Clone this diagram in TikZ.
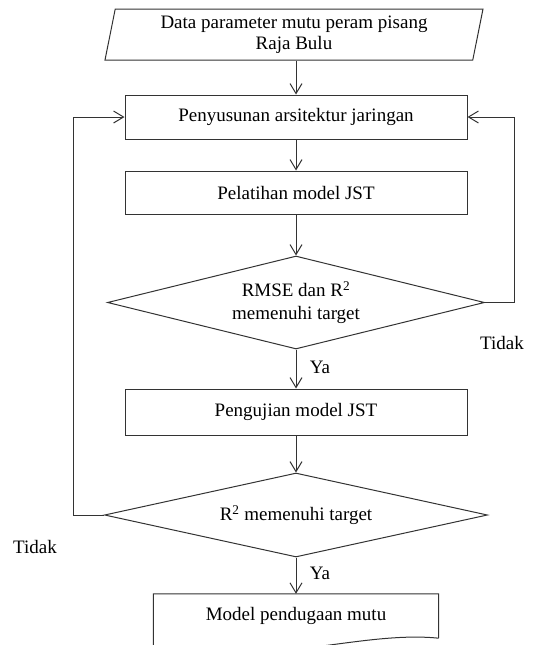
\documentclass[tikz,border=0pt]{standalone}
\usepackage{fontspec}
\setmainfont{Liberation Serif}
\usetikzlibrary{shapes.geometric,arrows.meta}
\begin{document}
\begin{tikzpicture} [x=1pt, y=-1pt, font=\fontsize{19}{21}\selectfont,
  line/.style={draw=black!80, line width=1pt},
  box/.style={line, minimum width=342pt, minimum height=44pt},
  dec/.style={line, diamond, aspect=4, inner sep=0pt, align=center},
  arr/.style={line, -{Straight Barb[length=10pt,width=12pt]}}]
\useasboundingbox (0,0) rectangle (535,645);
\node [line, trapezium, trapezium left angle=77, trapezium right angle=103, trapezium stretches body,
  minimum width=378pt, minimum height=51pt, align=center] (data) at (294,34.5) {Data parameter mutu peram pisang\\Raja Bulu};
\node [box] (susun) at (296,117) {Penyusunan arsitektur jaringan};
\node [box, minimum height=43pt] (latih) at (296,192.5) {Pelatihan model JST};
\node [dec, minimum width=377pt, minimum height=93pt] (cek1) at (296,302.5) {RMSE dan R\textsuperscript{2}\\[2pt]memenuhi target};
\node [box, minimum height=46pt] (uji) at (296,412) {Pengujian model JST};
\node [dec, minimum width=383pt, minimum height=84pt] (cek2) at (296,515) {R\textsuperscript{2} memenuhi target};
\node [minimum width=285pt, minimum height=44pt] (hasil) at (296,616) {Model pendugaan mutu};
\draw [line] (hasil.south east) -- (hasil.north east) -- (hasil.north west) -- ([yshift=-8pt]hasil.south west)
  .. controls (260,670) and (360,630) .. (hasil.south east);
\node (ya1) at (320,367) {Ya};
\node (ya2) at (320,573) {Ya};
\node (tidak1) at (502,343) {Tidak};
\node (tidak2) at (35,547) {Tidak};
\draw [arr] (data.south -| susun.north) -- (susun.north);
\draw [arr] (susun) -- (latih);
\draw [arr] (latih) -- (cek1);
\draw [arr] (cek1) -- (uji);
\draw [arr] (uji) -- (cek2);
\draw [arr] (cek2) -- (hasil);
\draw [arr] (cek1.east) -- ++(29,0) |- (susun.east);
\draw [arr] (cek2.west) -- ++(-31,0) |- (susun.west);
\end{tikzpicture}
\end{document}
